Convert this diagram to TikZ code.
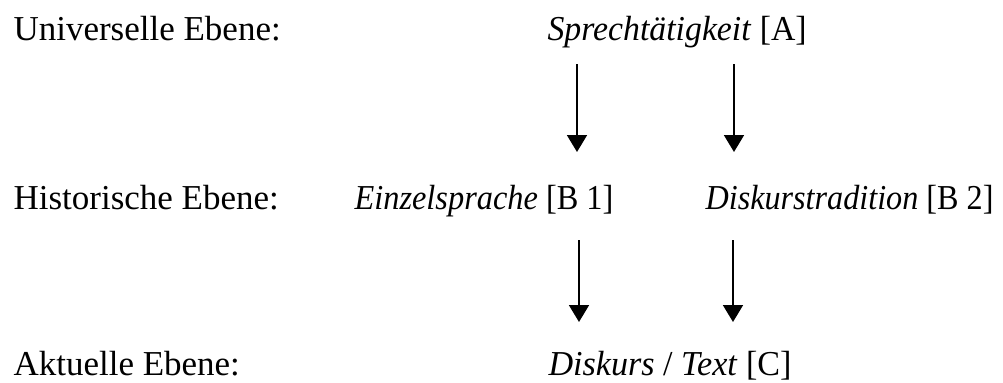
\documentclass[tikz,border=0pt]{standalone}
\usepackage{fontspec}
\setmainfont{Liberation Serif}
\usetikzlibrary{arrows.meta}

\begin{document}
\begin{tikzpicture}[x=0.343pt, y=-0.343pt, font=\fontsize{12}{14}\selectfont,
    ebene/.style={anchor=base west, inner sep=0pt},
    pfeil/.style={line width=0.7pt, -{Triangle[width=6.8pt,length=5.8pt]}}]
    \useasboundingbox (0,0) rectangle (1003,382);
    %%Ebenen
    \node[ebene] (universell) at (13,40) {Universelle Ebene:};
    \node[ebene] (historisch) at (13,209) {Historische Ebene:};
    \node[ebene] (aktuell) at (13,375) {Aktuelle Ebene:};
    %%Begriffe
    \node[ebene] (sprech) at (547,40) {\scalebox{0.965}[1]{\textit{Sprechtätigkeit} [A]}};
    \node[ebene] (einzel) at (354,209) {\scalebox{0.925}[1]{\textit{Einzelsprache} [B 1]}};
    \node[ebene] (tradition) at (705,209) {\scalebox{0.92}[1]{\textit{Diskurstradition} [B 2]}};
    \node[ebene] (diskurs) at (548,375) {\scalebox{0.975}[1]{\textit{Diskurs} / \textit{Text} [C]}};
    %%Pfeile
    \coordinate (a1) at (577,64);
    \coordinate (a1e) at (577,152);
    \coordinate (a2) at (734,64);
    \coordinate (a2e) at (734,152);
    \coordinate (b1) at (579,240);
    \coordinate (b1e) at (579,322);
    \coordinate (b2) at (733,240);
    \coordinate (b2e) at (733,322);
    \draw[pfeil] (a1) to (a1e);
    \draw[pfeil] (a2) to (a2e);
    \draw[pfeil] (b1) to (b1e);
    \draw[pfeil] (b2) to (b2e);
\end{tikzpicture}
\end{document}
